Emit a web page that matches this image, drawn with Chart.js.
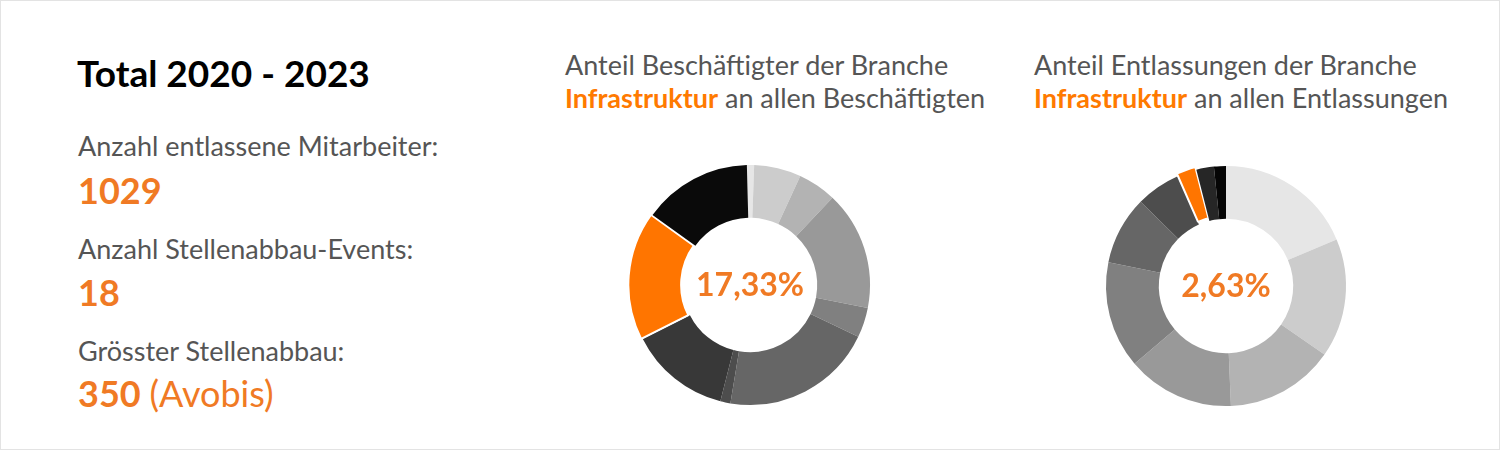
<!DOCTYPE html>
<html>
<head>
<meta charset="utf-8">
<script src="https://cdn.jsdelivr.net/npm/chart.js@4.4.0/dist/chart.umd.min.js"></script>
<style>
  html, body { margin: 0; padding: 0; background: #fff; }
  #frame { position: relative; width: 1500px; height: 450px; box-sizing: border-box; border: 1px solid #e3e3e3; font-family: Lato, "Open Sans", sans-serif; overflow: hidden; }
  .t { position: absolute; white-space: nowrap; line-height: 1; }
  .h { font-weight: 700; color: #000; font-size: 37px; }
  .lab { color: #555; font-size: 27px; }
  .num { color: #f07a24; font-weight: 700; font-size: 36px; }
  .num span { font-weight: 400; }
  .ttl { color: #555; font-size: 27px; line-height: 33px; }
  .ttl b { color: #ff7a00; font-weight: 700; }
  canvas { position: absolute; }
</style>
</head>
<body>
<div id="frame">
  <div class="t h" style="left:76px; top:53px;">Total 2020 - 2023</div>
  <div class="t lab" style="left:77px; top:131px;">Anzahl entlassene Mitarbeiter:</div>
  <div class="t num" style="left:77px; top:171px;">1029</div>
  <div class="t lab" style="left:77px; top:234px;">Anzahl Stellenabbau-Events:</div>
  <div class="t num" style="left:77px; top:273px;">18</div>
  <div class="t lab" style="left:77px; top:336px;">Grösster Stellenabbau:</div>
  <div class="t num" style="left:77px; top:374px;">350 <span>(Avobis)</span></div>

  <div class="t ttl" style="left:564px; top:47px;">Anteil Beschäftigter der Branche<br><b>Infrastruktur</b> an allen Beschäftigten</div>
  <div class="t ttl" style="left:1033px; top:47px;">Anteil Entlassungen der Branche<br><b>Infrastruktur</b> an allen Entlassungen</div>

  <canvas id="c1" width="248" height="248" style="left:625px; top:160px;"></canvas>
  <canvas id="c2" width="248" height="248" style="left:1101px; top:161px;"></canvas>
</div>
<script>
// Branchen (unlabelled in the original graphic)
const categoriesEmployment = ["Branche A","Branche B","Branche C","Branche D","Branche E","Branche F","Branche G","Branche H","Infrastruktur","Branche I"];
const employmentShares = [0.97, 6.33, 5.17, 16.0, 4.06, 20.5, 1.36, 13.61, 17.33, 14.67];
const employmentColors = ["#e6e6e6","#cccccc","#b3b3b3","#999999","#808080","#666666","#4d4d4d","#383838","#ff7500","#0a0a0a"];
const employmentCenter = "17,33%";

const categoriesLayoffs = ["Branche A","Branche B","Branche C","Branche D","Branche E","Branche F","Branche G","Infrastruktur","Branche H","Branche I"];
const layoffShares = [18.65, 16.03, 14.67, 14.44, 14.39, 9.22, 6.0, 2.63, 2.36, 1.61];
const layoffColors = ["#e6e6e6","#cccccc","#b3b3b3","#999999","#808080","#666666","#4d4d4d","#ff7500","#262626","#050505"];
const layoffCenter = "2,63%";

const highlight = "Infrastruktur";

const centerText = {
  id: "centerText",
  afterDraw(chart, args, opts) {
    const {ctx, chartArea} = chart;
    const x = (chartArea.left + chartArea.right) / 2;
    const y = (chartArea.top + chartArea.bottom) / 2;
    ctx.save();
    ctx.font = "700 32px Lato, sans-serif";
    ctx.fillStyle = "#f07a24";
    ctx.textAlign = "center";
    ctx.textBaseline = "middle";
    ctx.fillText(opts.text, x, y + 1);
    ctx.restore();
  }
};

function donut(id, labels, values, colors, text, rotation) {
  new Chart(document.getElementById(id), {
    type: "doughnut",
    data: {
      labels: labels,
      datasets: [{
        data: values,
        backgroundColor: colors,
        borderColor: "#ffffff",
        borderWidth: labels.map(l => l === highlight ? 2 : 0),
        offset: labels.map(l => l === highlight ? 6 : 0)
      }]
    },
    options: {
      responsive: false,
      animation: false,
      devicePixelRatio: 1,
      cutout: "56%",
      rotation: rotation,
      layout: { padding: 0 },
      plugins: {
        legend: { display: false },
        tooltip: { enabled: false },
        centerText: { text: text }
      }
    },
    plugins: [centerText]
  });
}

donut("c1", categoriesEmployment, employmentShares, employmentColors, employmentCenter, -1.5);
donut("c2", categoriesLayoffs, layoffShares, layoffColors, layoffCenter, 0);
</script>
</body>
</html>
